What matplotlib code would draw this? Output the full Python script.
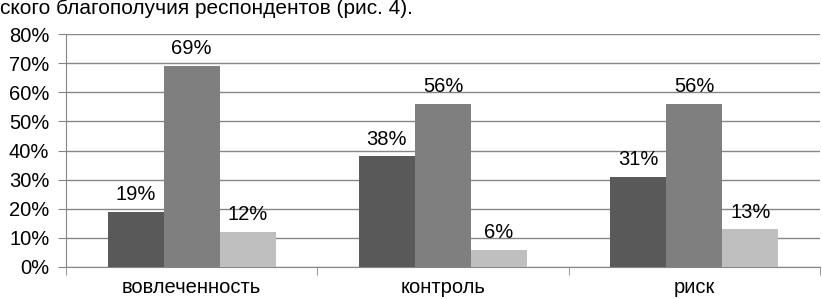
import matplotlib
matplotlib.use("Agg")
import matplotlib.pyplot as plt
import numpy as np

categories = ["вовлеченность", "контроль", "риск"]
series_a = [19, 38, 31]
series_b = [69, 56, 56]
series_c = [12, 6, 13]
yticks = [0, 10, 20, 30, 40, 50, 60, 70, 80]

plt.rcParams['font.family'] = ['Liberation Sans', 'DejaVu Sans']
FS = 14.5

fig = plt.figure(figsize=(8.22, 2.99), dpi=100)
ax = fig.add_axes([66/822, 1-267/299, (820-66)/822, (267-34)/299])

x = np.arange(len(categories))
w = 0.223
colors = ['#595959', '#7f7f7f', '#bfbfbf']
for i, (vals, c) in enumerate(zip([series_a, series_b, series_c], colors)):
    pos = x + (i - 1) * w
    ax.bar(pos, vals, width=w, color=c, zorder=3)
    for p, v in zip(pos, vals):
        ax.text(p, v + 2.6, f"{v}%", ha='center', va='bottom', fontsize=FS, color='black')

ax.set_xlim(-0.5, len(categories) - 0.5)
ax.set_ylim(0, 80)
ax.set_yticks(yticks)
ax.set_yticklabels([f"{t}%" for t in yticks], fontsize=FS)
ax.yaxis.grid(True, color='#868686', linewidth=1, zorder=0)
ax.set_axisbelow(True)

ax.set_xticks(x)
ax.set_xticklabels(categories, fontsize=FS)
ax.tick_params(axis='x', length=0, pad=8)
ax.set_xticks(np.arange(len(categories) + 1) - 0.5, minor=True)
ax.tick_params(axis='x', which='minor', length=6, color='#868686')
ax.tick_params(axis='y', length=6, color='#868686', pad=6)

for s in ['top', 'right']:
    ax.spines[s].set_visible(False)
for s in ['left', 'bottom']:
    ax.spines[s].set_color('#868686')

fig.text(0.0, 1 - 14/299, "ского благополучия респондентов (рис. 4).", fontsize=15,
         ha='left', va='baseline')

fig.savefig("out.png", dpi=100)
